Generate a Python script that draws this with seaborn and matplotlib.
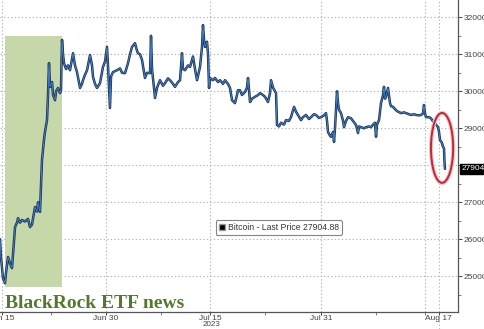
import matplotlib
matplotlib.use("Agg")
import matplotlib.pyplot as plt
import matplotlib.dates as mdates
from matplotlib.patches import Rectangle, Ellipse, Patch
import seaborn as sns
import pandas as pd

# ---------------- data ----------------
# time in days after 2023-06-15 00:00, and Bitcoin last price
days = [-0.29, -0.14, 0.14, 0.43, 0.58, 0.87, 1.15, 1.44, 1.59, 1.88, 2.16, 2.31, 2.60, 2.89,
        3.32, 3.75, 4.04, 4.33, 4.76, 5.05, 5.19, 5.48, 5.77, 6.06, 6.20, 6.49, 6.64, 6.78,
        6.93, 7.22, 7.36, 7.65, 7.79, 8.08, 8.37, 8.51, 8.66, 8.80, 8.95, 9.24, 9.52, 9.81,
        10.25, 10.53, 10.82, 11.26, 11.54, 11.69, 11.98, 12.27, 12.70, 12.99, 13.13, 13.42,
        13.71, 14.14, 14.57, 14.86, 15.15, 15.30, 15.58, 15.73, 16.02, 16.59, 17.03, 17.32,
        17.75, 18.18, 18.47, 18.76, 19.19, 19.48, 19.62, 19.91, 20.20, 20.63, 20.92, 21.36,
        21.50, 21.65, 21.93, 22.08, 22.37, 22.80, 23.23, 23.52, 23.95, 24.24, 24.68, 24.96,
        25.40, 25.69, 25.97, 26.12, 26.41, 26.84, 27.13, 27.56, 27.85, 28.14, 28.57, 28.86,
        29.00, 29.15, 29.29, 29.58, 29.73, 29.87, 30.01, 30.45, 30.74, 31.17, 31.46, 31.89,
        32.18, 32.61, 32.90, 33.19, 33.62, 33.91, 34.05, 34.34, 34.63, 35.06, 35.35, 35.50,
        35.79, 36.08, 36.51, 36.94, 37.23, 37.66, 37.95, 38.38, 38.67, 38.82, 39.11, 39.54,
        39.68, 39.97, 40.26, 40.69, 40.98, 41.41, 41.70, 42.14, 42.42, 42.71, 43.15, 43.43,
        43.87, 44.30, 44.59, 45.02, 45.31, 45.74, 46.03, 46.46, 46.75, 46.90, 47.04, 47.33,
        47.47, 47.76, 47.91, 48.05, 48.34, 48.48, 48.63, 48.92, 49.21, 49.35, 49.64, 49.93,
        50.36, 50.65, 51.08, 51.37, 51.52, 51.80, 52.24, 52.53, 52.96, 53.25, 53.54, 53.82,
        53.97, 54.11, 54.40, 54.69, 54.98, 55.12, 55.27, 55.41, 55.70, 55.84, 55.99, 56.13,
        56.42, 56.85, 57.14, 57.58, 58.01, 58.30, 58.73, 59.02, 59.45, 59.74, 60.17, 60.46,
        60.75, 60.89, 61.04, 61.18, 61.62, 61.90, 62.34, 62.63, 62.92, 63.06, 63.20, 63.35,
        63.49, 63.64, 63.78, 63.85, 63.92]
price = [26000, 25500, 24950, 24810, 25100, 25520, 25350, 25220, 25600, 26330, 26450, 26570, 26450, 26520,
         26480, 26550, 26330, 26400, 26870, 26750, 27000, 26740, 28140, 28700, 28900, 29220, 29900, 30760,
         30120, 30250, 29900, 29760, 30000, 30090, 29950, 30030, 31390, 31000, 30760, 30600, 30700, 30570,
         31030, 30700, 30520, 30090, 30200, 30300, 30450, 30570, 30980, 30700, 30390, 30200,
         30090, 30220, 30660, 30800, 31200, 30660, 29550, 30400, 30520, 30570, 30620, 30500,
         30490, 30760, 31000, 31200, 31300, 31100, 31030, 31000, 30850, 30360, 30500, 30490,
         31500, 30600, 30090, 29820, 30100, 30300, 30150, 30220, 30350, 30300, 30200, 30120,
         30250, 30300, 31030, 30600, 30570, 30700, 30660, 30940, 30600, 30300, 30660, 31200,
         31790, 31400, 31200, 31340, 31000, 30090, 30360, 30300, 30360, 30250, 30300, 30200,
         30300, 30200, 30090, 29760, 29680, 29900, 30030, 30030, 29900, 29980, 30100, 30360,
         29710, 29800, 29850, 29900, 29950, 29900, 29850, 29710, 29950, 30300, 30100, 29950,
         29090, 29050, 29150, 29100, 29220, 29200, 29300, 29580, 29450, 29360, 29220, 29300,
         29360, 29250, 29300, 29380, 29360, 29280, 29300, 29350, 29410, 29200, 28900, 28800,
         28770, 28900, 28630, 29000, 30000, 29700, 29500, 29410, 29200, 29030, 29200, 29300,
         29270, 29200, 29090, 28870, 29050, 29030, 29000, 29030, 29050, 29030, 29100, 29150,
         28770, 29100, 29220, 29680, 29900, 30120, 29800, 29850, 30090, 29900, 29680, 29600,
         29580, 29490, 29450, 29410, 29430, 29410, 29380, 29360, 29380, 29360, 29350, 29360,
         29400, 29630, 29400, 29300, 29300, 29270, 29150, 29100, 29030, 28900, 28680, 28650,
         28600, 28500, 28460, 28100, 27905]

base_date = "2023-06-15"
x_range_days = [-0.29, 65.8]
y_range = [24034, 32468]
y_ticks = [25000, 26000, 27000, 28000, 29000, 30000, 31000, 32000]
y_hidden_label = 28000  # covered by the last-price tag
y_minor = [24500, 25500, 26500, 27500, 28500, 29500, 30500, 31500]
x_tick_dates = ["2023-06-15", "2023-06-30", "2023-07-15", "2023-07-31", "2023-08-17"]
x_tick_labels = ["Jun 15", "Jun 30", "Jul 15", "Jul 31", "Aug 17"]
year_label = "2023"
year_label_date = "2023-07-15"
x_minor_dates = ["2023-06-22", "2023-07-08", "2023-07-23", "2023-08-08", "2023-08-15"]
x_grid_dates = ["2023-06-15", "2023-06-30", "2023-07-15", "2023-07-31", "2023-08-15"]
today_date = "2023-08-17"
shade_days = [0.43, 8.66]
shade_prices = [24710, 31500]
circle_center = [63.5, 28470]
circle_size = [3.2, 1890]
last_price = 27904.88
series_name = "Bitcoin - Last Price"
annotation = "BlackRock ETF news"

# ---------------- plot ----------------
sns.set_style("white")
plt.rcParams["font.family"] = ["Liberation Sans", "DejaVu Sans"]

base = pd.Timestamp(base_date)
df = pd.DataFrame({"time": base + pd.to_timedelta(days, unit="D"), "price": price})

fig = plt.figure(figsize=(4.85, 3.29), dpi=100)
ax = fig.add_axes([0.0, 17 / 329, 458 / 485, 312 / 329])

grid_kw = dict(color="#b5b5b5", linestyle=(0, (1.2, 2.0)), linewidth=0.8, zorder=0)
for yv in y_ticks:
    ax.axhline(yv, **grid_kw)
for d in x_grid_dates:
    ax.axvline(pd.Timestamp(d), **grid_kw)
ax.plot([pd.Timestamp(today_date)] * 2, [0, 1.0], transform=ax.get_xaxis_transform(),
        **grid_kw)
ax.plot([pd.Timestamp(today_date)] * 2, [-0.055, 0.0], transform=ax.get_xaxis_transform(),
        clip_on=False, **grid_kw)

t0 = base + pd.Timedelta(days=shade_days[0])
t1 = base + pd.Timedelta(days=shade_days[1])
ax.add_patch(Rectangle((mdates.date2num(t0), shade_prices[0]),
                       mdates.date2num(t1) - mdates.date2num(t0),
                       shade_prices[1] - shade_prices[0],
                       facecolor="#c6d7aa", edgecolor="none", zorder=1))

sns.lineplot(data=df, x="time", y="price", ax=ax, color="#1b3358", linewidth=1.8, zorder=3)
sns.lineplot(data=df, x="time", y="price", ax=ax, color="#4a86c8", linewidth=0.6, zorder=4)

cx = mdates.date2num(base + pd.Timedelta(days=circle_center[0]))
ax.add_patch(Ellipse((cx, circle_center[1]), circle_size[0], circle_size[1],
                     facecolor="none", edgecolor="#f3c3c3", linewidth=3.0, zorder=5))
ax.add_patch(Ellipse((cx, circle_center[1]), circle_size[0], circle_size[1],
                     facecolor="none", edgecolor="#c0283a", linewidth=1.4, zorder=6))

ax.set_xlim(base + pd.Timedelta(days=x_range_days[0]), base + pd.Timedelta(days=x_range_days[1]))
ax.set_ylim(*y_range)
ax.set_xlabel("")
ax.set_ylabel("")

ax.yaxis.tick_right()
ax.set_yticks(y_ticks)
ax.set_yticklabels(["" if v == y_hidden_label else str(v) for v in y_ticks])
ax.set_yticks(y_minor, minor=True)
ax.set_xticks([pd.Timestamp(d) for d in x_tick_dates])
ax.set_xticklabels(x_tick_labels)
ax.set_xticks([pd.Timestamp(d) for d in x_minor_dates], minor=True)
ax.tick_params(axis="both", which="major", labelsize=6.0, colors="#444444", length=3, width=0.7, pad=0.8)
ax.tick_params(axis="x", which="major", length=2, pad=0)
ax.tick_params(axis="both", which="minor", length=2, width=0.6, colors="#666666")
ax.tick_params(axis="y", which="both", right=True, left=False)
ax.tick_params(axis="x", which="both", bottom=True)

ax.text(pd.Timestamp(year_label_date) + pd.Timedelta(days=0.3), 0.002, year_label,
        transform=matplotlib.transforms.blended_transform_factory(ax.transData, fig.transFigure),
        ha="center", va="bottom", fontsize=5.8, color="#444444", clip_on=False)

for s in ["top", "left"]:
    ax.spines[s].set_visible(False)
for s in ["right", "bottom"]:
    ax.spines[s].set_color("#555555")
    ax.spines[s].set_linewidth(0.9)

ax.text(1.008, last_price, f"{last_price:.2f}", transform=ax.get_yaxis_transform(),
        ha="left", va="center", fontsize=6.0, color="white", clip_on=False, zorder=10,
        bbox=dict(boxstyle="square,pad=0.15", facecolor="black", edgecolor="black"))

leg = ax.legend(handles=[Patch(facecolor="black", edgecolor="#999999")],
                labels=[f"{series_name} {last_price:.2f}"],
                loc="lower left", bbox_to_anchor=(0.471, 0.247), fontsize=6.2,
                frameon=True, fancybox=True, handlelength=0.7, handleheight=0.7,
                handletextpad=0.4, borderpad=0.35, borderaxespad=0)
leg.get_frame().set_edgecolor("#666666")
leg.get_frame().set_linewidth(0.8)
for t in leg.get_texts():
    t.set_color("#333333")

ax.text(0.011, 0.013, annotation, transform=ax.transAxes, ha="left", va="baseline",
        fontsize=14, fontweight="bold", family="Liberation Serif", color="#537a28", zorder=8)

fig.savefig("out.png", dpi=100)
